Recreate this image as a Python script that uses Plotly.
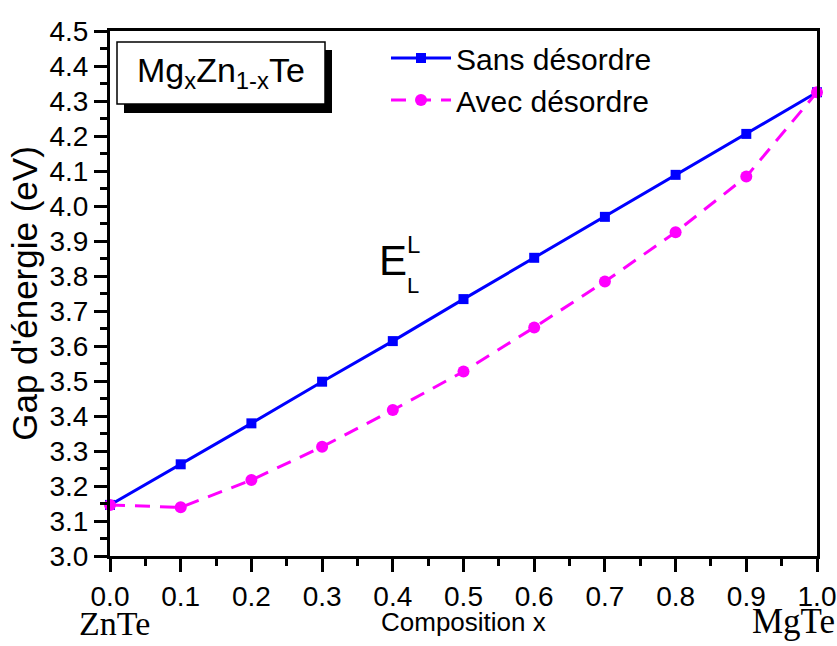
import plotly.graph_objects as go

composition = [0.0, 0.1, 0.2, 0.3, 0.4, 0.5, 0.6, 0.7, 0.8, 0.9, 1.0]
gap_sans = [3.146, 3.262, 3.379, 3.498, 3.614, 3.734, 3.852, 3.969, 4.089, 4.206, 4.325]
gap_avec = [3.146, 3.139, 3.217, 3.312, 3.417, 3.527, 3.653, 3.784, 3.925, 4.084, 4.325]
x_ticks = [0.0, 0.1, 0.2, 0.3, 0.4, 0.5, 0.6, 0.7, 0.8, 0.9, 1.0]
y_ticks = [3.0, 3.1, 3.2, 3.3, 3.4, 3.5, 3.6, 3.7, 3.8, 3.9, 4.0, 4.1, 4.2, 4.3, 4.4, 4.5]

W, H = 837, 646
L, R, T, B = 110, 20, 31, 90
PW, PH = W - L - R, H - T - B

def px(xpix):
    return (xpix - L) / PW

def py(ypix):
    return (H - B - ypix) / PH

FONT = "Liberation Sans"

fig = go.Figure()
fig.add_trace(go.Scatter(
    x=composition, y=gap_sans, mode="lines+markers", name="Sans désordre",
    line=dict(color="#0000FF", width=3),
    marker=dict(symbol="square", size=10, color="#0000FF"),
    cliponaxis=False,
))
fig.add_trace(go.Scatter(
    x=composition, y=gap_avec, mode="lines+markers", name="Avec désordre",
    line=dict(color="#FF00FF", width=3, dash="15px,10px"),
    marker=dict(symbol="circle", size=12, color="#FF00FF"),
    cliponaxis=False,
))

axis_common = dict(
    showgrid=False, zeroline=False, showline=True, linecolor="black", linewidth=3,
    mirror=True, ticks="outside", ticklen=13, tickwidth=3, tickcolor="black",
    tickfont=dict(family=FONT, size=28, color="black"),
)

fig.update_xaxes(
    range=[0, 1], tickvals=x_ticks, ticktext=[f"{v:.1f}" for v in x_ticks],
    minor=dict(dtick=0.05, ticklen=7, tickwidth=2.5, ticks="outside", tickcolor="black"),
    **axis_common,
)
fig.update_yaxes(
    range=[3.0, 4.5], tickvals=y_ticks, ticktext=[f"{v:.1f}" for v in y_ticks],
    minor=dict(dtick=0.05, ticklen=7, tickwidth=2.5, ticks="outside", tickcolor="black"),
    title=dict(text="Gap d'énergie (eV)", font=dict(family=FONT, size=35, color="black"), standoff=2),
    **axis_common,
)

shapes = [
    dict(type="rect", xref="paper", yref="paper", x0=px(124), x1=px(332), y0=py(113), y1=py(50),
         fillcolor="black", line=dict(width=0), layer="above"),
    dict(type="rect", xref="paper", yref="paper", x0=px(117), x1=px(325), y0=py(104), y1=py(42),
         fillcolor="white", line=dict(color="black", width=1.5), layer="above"),
]

def ann(text, xp, yp, size, family=FONT, xanchor="center"):
    return dict(text=text, x=px(xp), y=py(yp), xref="paper", yref="paper",
                xanchor=xanchor, yanchor="middle", showarrow=False,
                font=dict(family=family, size=size, color="black"))

annotations = [
    ann("Mg<sub>x</sub>Zn<sub>1-x</sub>Te", 221, 72, 34),
    ann("E", 393, 260, 42),
    ann("L", 413, 244, 24),
    ann("L", 413, 285, 22),
    ann("Composition x", 463, 622, 26),
    ann("ZnTe", 114, 623, 34, family="Liberation Serif"),
    ann("MgTe", 837, 621, 35, family="Liberation Serif", xanchor="right"),
]

fig.update_layout(
    width=W, height=H,
    margin=dict(l=L, r=R, t=T, b=B, autoexpand=False),
    paper_bgcolor="white", plot_bgcolor="white",
    showlegend=True,
    legend=dict(x=px(386), y=py(32), xanchor="left", yanchor="top",
                bgcolor="rgba(0,0,0,0)", borderwidth=0, itemwidth=60,
                font=dict(family=FONT, size=30, color="black"), tracegroupgap=0),
    shapes=shapes,
    annotations=annotations,
)

fig.write_html("out.html")
